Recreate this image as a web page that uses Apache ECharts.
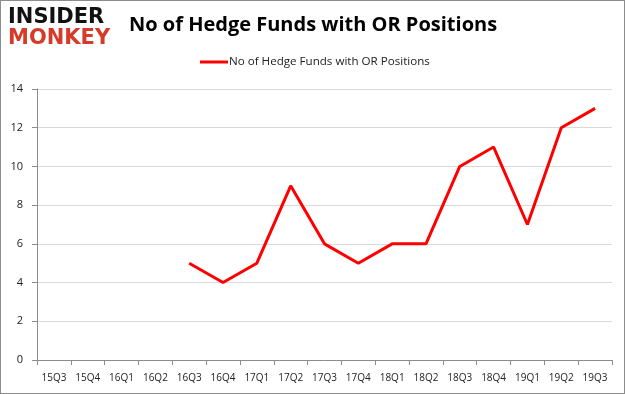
<!DOCTYPE html>
<html><head><meta charset="utf-8">
<script src="https://cdn.jsdelivr.net/npm/echarts@6/dist/echarts.min.js"></script>
<style>html,body{margin:0;padding:0;background:#fff}#c{width:625px;height:394px;box-sizing:border-box;border:1px solid #8c8c8c}</style>
</head><body><div id="c"></div>
<script>
var categories = ['15Q3','15Q4','16Q1','16Q2','16Q3','16Q4','17Q1','17Q2','17Q3','17Q4','18Q1','18Q2','18Q3','18Q4','19Q1','19Q2','19Q3'];
var seriesName = 'No of Hedge Funds with OR Positions';
var values = [null,null,null,null,5,4,5,9,6,5,6,6,10,11,7,12,13];
var yTicks = [0,2,4,6,8,10,12,14];

var chart = echarts.init(document.getElementById('c'), null, {renderer:'canvas'});
chart.setOption({
  animation:false,
  title:{text:'No of Hedge Funds with OR Positions',left:128,top:14,padding:0,
    textStyle:{fontFamily:'Open Sans',fontWeight:'bold',fontSize:20,color:'#000'}},
  graphic:[
    {type:'text',left:7,top:6,style:{text:'INSIDER',font:'900 21px "DejaVu Sans"',fill:'#111'}},
    {type:'text',left:7,top:27,style:{text:'MONKEY',font:'900 21px "DejaVu Sans"',fill:'#d83a2a'}}
  ],
  legend:{data:[seriesName],left:199,top:55,padding:0,itemWidth:28,itemHeight:3,itemGap:0,icon:'rect',
    textStyle:{fontFamily:'Open Sans',fontSize:11.6,color:'#222',padding:[0,0,0,-4]}},
  grid:{left:36,right:12,top:88,bottom:33,containLabel:false},
  xAxis:{type:'category',data:categories,boundaryGap:true,
    axisLine:{lineStyle:{color:'#8c8c8c'}},
    axisTick:{show:true,length:5,lineStyle:{color:'#8c8c8c'}},
    axisLabel:{fontFamily:'Open Sans',fontSize:10,color:'#222',margin:13,interval:0}},
  yAxis:{type:'value',min:0,max:14,interval:2,
    axisLine:{show:true,lineStyle:{color:'#8c8c8c'}},
    axisTick:{show:true,length:5,lineStyle:{color:'#8c8c8c'}},
    splitLine:{lineStyle:{color:'#d9d9d9'}},
    axisLabel:{fontFamily:'Open Sans',fontSize:11,color:'#222',margin:14,
      formatter:function(v){return yTicks.indexOf(v)>=0?String(v):'';}}},
  series:[{name:seriesName,type:'line',data:values,connectNulls:false,symbol:'none',
    lineStyle:{color:'#ff0000',width:3},itemStyle:{color:'#ff0000'}}]
});
</script></body></html>
